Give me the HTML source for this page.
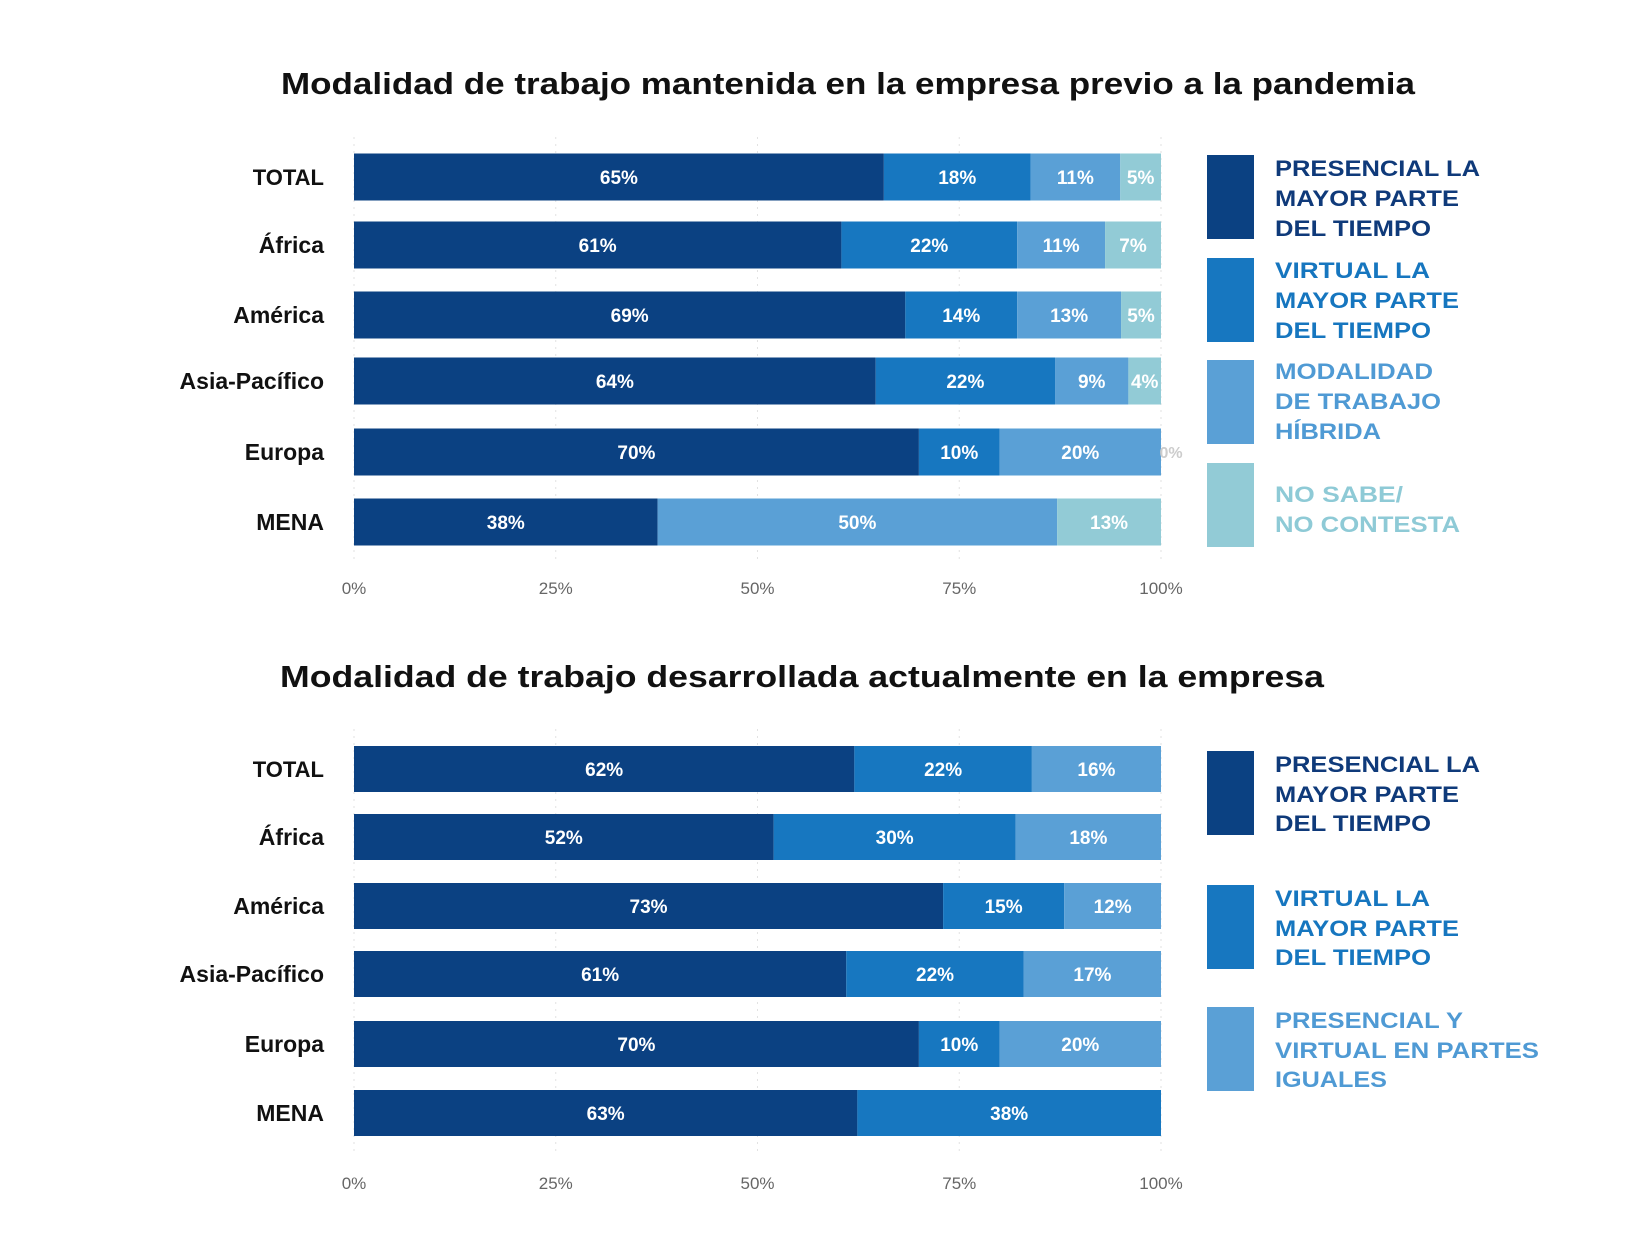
<!DOCTYPE html>
<html><head><meta charset="utf-8">
<style>
html,body{margin:0;padding:0;background:#fff;}
svg{display:block;font-family:"Liberation Sans",sans-serif;}
</style></head>
<body>
<svg id="chart" width="1628" height="1246" viewBox="0 0 1628 1246" xmlns="http://www.w3.org/2000/svg">
<text x="281" y="94" font-size="31" font-weight="bold" fill="#111" textLength="1134" lengthAdjust="spacingAndGlyphs">Modalidad de trabajo mantenida en la empresa previo a la pandemia</text>
<text x="280" y="687" font-size="31" font-weight="bold" fill="#111" textLength="1044" lengthAdjust="spacingAndGlyphs">Modalidad de trabajo desarrollada actualmente en la empresa</text>
<g id="c1"></g><g id="c2"></g>
<g>
<rect x="1207" y="155" width="47" height="84" fill="#0b4182"/>
<text font-size="22" font-weight="bold" fill="#0f3a7a"><tspan x="1275" y="176" textLength="205" lengthAdjust="spacingAndGlyphs">PRESENCIAL LA</tspan><tspan x="1275" y="206" textLength="184" lengthAdjust="spacingAndGlyphs">MAYOR PARTE</tspan><tspan x="1275" y="236" textLength="156" lengthAdjust="spacingAndGlyphs">DEL TIEMPO</tspan></text>
<rect x="1207" y="258" width="47" height="84" fill="#1777c0"/>
<text font-size="22" font-weight="bold" fill="#1676bf"><tspan x="1275" y="278" textLength="155" lengthAdjust="spacingAndGlyphs">VIRTUAL LA</tspan><tspan x="1275" y="308" textLength="184" lengthAdjust="spacingAndGlyphs">MAYOR PARTE</tspan><tspan x="1275" y="338" textLength="156" lengthAdjust="spacingAndGlyphs">DEL TIEMPO</tspan></text>
<rect x="1207" y="360" width="47" height="84" fill="#5aa0d6"/>
<text font-size="22" font-weight="bold" fill="#4f9ad4"><tspan x="1275" y="379" textLength="158" lengthAdjust="spacingAndGlyphs">MODALIDAD</tspan><tspan x="1275" y="409" textLength="166" lengthAdjust="spacingAndGlyphs">DE TRABAJO</tspan><tspan x="1275" y="439" textLength="106" lengthAdjust="spacingAndGlyphs">HÍBRIDA</tspan></text>
<rect x="1207" y="463" width="47" height="84" fill="#92cbd6"/>
<text font-size="22" font-weight="bold" fill="#8ecad6"><tspan x="1275" y="502" textLength="128" lengthAdjust="spacingAndGlyphs">NO SABE/</tspan><tspan x="1275" y="532" textLength="185" lengthAdjust="spacingAndGlyphs">NO CONTESTA</tspan></text>
</g>
<g>
<rect x="1207" y="751" width="47" height="84" fill="#0b4182"/>
<text font-size="22" font-weight="bold" fill="#0f3a7a"><tspan x="1275" y="772" textLength="205" lengthAdjust="spacingAndGlyphs">PRESENCIAL LA</tspan><tspan x="1275" y="802" textLength="184" lengthAdjust="spacingAndGlyphs">MAYOR PARTE</tspan><tspan x="1275" y="831" textLength="156" lengthAdjust="spacingAndGlyphs">DEL TIEMPO</tspan></text>
<rect x="1207" y="885" width="47" height="84" fill="#1777c0"/>
<text font-size="22" font-weight="bold" fill="#1676bf"><tspan x="1275" y="906" textLength="155" lengthAdjust="spacingAndGlyphs">VIRTUAL LA</tspan><tspan x="1275" y="936" textLength="184" lengthAdjust="spacingAndGlyphs">MAYOR PARTE</tspan><tspan x="1275" y="965" textLength="156" lengthAdjust="spacingAndGlyphs">DEL TIEMPO</tspan></text>
<rect x="1207" y="1007" width="47" height="84" fill="#5aa0d6"/>
<text font-size="22" font-weight="bold" fill="#4f9ad4"><tspan x="1275" y="1028" textLength="188" lengthAdjust="spacingAndGlyphs">PRESENCIAL Y</tspan><tspan x="1275" y="1058" textLength="264" lengthAdjust="spacingAndGlyphs">VIRTUAL EN PARTES</tspan><tspan x="1275" y="1087" textLength="112" lengthAdjust="spacingAndGlyphs">IGUALES</tspan></text>
</g>
</svg>
<script>
const regions = ["TOTAL","África","América","Asia-Pacífico","Europa","MENA"];
const presencial1 = [65,61,69,64,70,38];
const virtual1 = [18,22,14,22,10,0];
const hibrida1 = [11,11,13,9,20,50];
const nsnc1 = [5,7,5,4,0,13];
const presencial2 = [62,52,73,61,70,63];
const virtual2 = [22,30,15,22,10,38];
const iguales2 = [16,18,12,17,20,0];
const tickLabels = ["0%","25%","50%","75%","100%"];
const tickValues = [0,25,50,75,100];

const NS="http://www.w3.org/2000/svg";
const colors=["#0b4182","#1777c0","#5aa0d6","#92cbd6"];
const X0=354, X1=1161;
function xs(v){return X0+(X1-X0)*v/100;}
function mk(tag,attrs,parent){const e=document.createElementNS(NS,tag);for(const k in attrs)e.setAttribute(k,attrs[k]);parent.appendChild(e);return e;}

function draw(gid, series, rowY, axisY, barH, prefix){
  const g=document.getElementById(gid);
  tickValues.forEach((t,i)=>{
    const l=mk('line',{x1:xs(t),x2:xs(t),y1:rowY[0]-40,y2:rowY[5]+40,stroke:'#e2e2e2','stroke-dasharray':'2 5'},g);
    
    
    const tx=mk('text',{x:xs(t),y:axisY,'text-anchor':'middle','font-size':17,fill:'#666'},g);
    
    
    tx.textContent=tickLabels[i];
  });
  regions.forEach((r,i)=>{
    const cy=rowY[i];
    const lab=mk('text',{x:324,y:cy+8,'text-anchor':'end','font-size':i===0?22:23,'font-weight':i===0?'900':'bold',fill:'#111'},g);
    
    
    lab.textContent=r;
    let sum=0; series.forEach(s=>sum+=s[i]);
    let acc=0;
    series.forEach((s,k)=>{
      const v=s[i]; if(v<=0){return;}
      const a=xs(acc/sum*100), b=xs((acc+v)/sum*100);
      const rect=mk('rect',{x:a,y:cy-barH/2,width:b-a,height:barH,fill:colors[k]},g);
      
      
      const t=mk('text',{x:(a+b)/2,y:cy+7,'text-anchor':'middle','font-size':19,'font-weight':'bold',fill:'#fff'},g);
      
      
      t.textContent=v+'%';
      acc+=v;
    });
    if(series.length===4 && series[3][i]===0){
      const z=mk('text',{x:X1+10,y:cy+6,'text-anchor':'middle','font-size':16,'font-weight':'bold',fill:'#ccc'},g);
      
      
      z.textContent='0%';
    }
  });
}
draw('c1',[presencial1,virtual1,hibrida1,nsnc1],[177,245,315,381,452,522],594,47,'chart1');
draw('c2',[presencial2,virtual2,iguales2],[769,837,906,974,1044,1113],1189,46,'chart2');
</script>
</body></html>
